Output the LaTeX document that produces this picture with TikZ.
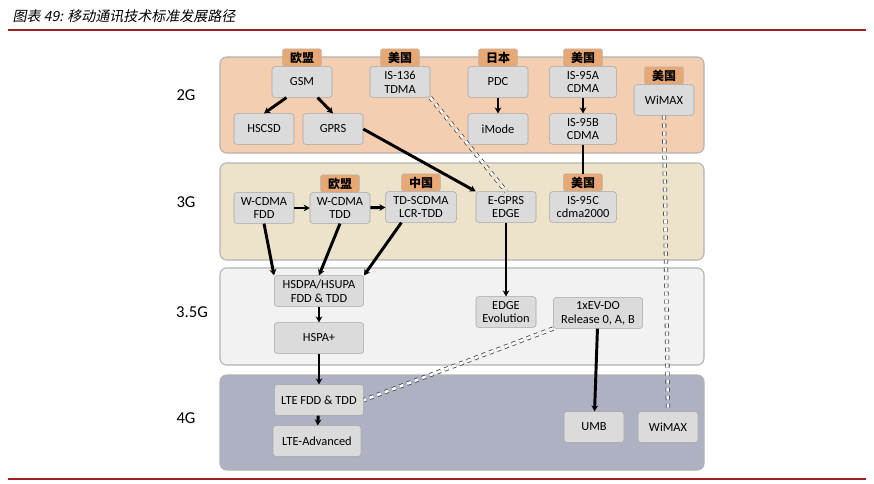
\documentclass[tikz,border=0pt]{standalone}
\usepackage{fontspec}
\setmainfont{Carlito}
\newfontfamily\cjk{Noto Sans CJK SC}
\newfontfamily\cjkit[FakeSlant=0.2]{Noto Sans CJK SC}
\usetikzlibrary{arrows.meta,positioning}
\definecolor{bandA}{HTML}{F4CEB1}
\definecolor{bandB}{HTML}{EDE3CA}
\definecolor{bandC}{HTML}{F2F2F2}
\definecolor{bandD}{HTML}{AEB1C2}
\definecolor{tagfill}{HTML}{E8A873}
\definecolor{rule}{HTML}{A31F1F}
\tikzset{
  tech/.style={rectangle, rounded corners=2pt, draw=gray!70, fill=gray!28, minimum width=45pt, minimum height=23pt, align=center, font=\fontsize{9.3}{10.3}\selectfont, inner sep=1pt},
  wide/.style={tech, minimum width=67pt},
  tag/.style={rectangle, rounded corners=1.5pt, draw=gray!60, fill=tagfill, minimum width=29pt, minimum height=13pt, inner sep=1pt, font=\cjk\fontsize{9}{9}\selectfont\bfseries},
  band/.style={rounded corners=5pt, draw=gray!60, line width=0.8pt},
  gen/.style={font=\fontsize{12.5}{13}\selectfont},
  flow/.style={line width=2.2pt, -{Stealth[length=4.5pt,width=5pt]}},
  link/.style={line width=2.2pt},
  legacy/.style={draw=black!75, double=white, double distance=2pt, dashed, line width=0.6pt}
}
\begin{document}
\begin{tikzpicture}[x=0.75pt,y=-0.75pt]
  \useasboundingbox (0,0) rectangle (874,483);
  % title and rules
  \node[anchor=west, font=\cjkit\fontsize{10.5}{11}\selectfont] (title) at (8,16) {图表 49: 移动通讯技术标准发展路径};
  \draw[rule, line width=0.8pt] (8,30) -- (866,30);
  \draw[rule, line width=0.8pt] (8,479) -- (866,479);

  % generation bands
  \draw[band, fill=bandA] (220,57) rectangle (704,153);
  \draw[band, fill=bandB] (220,163) rectangle (704,260);
  \draw[band, fill=bandC] (220,268) rectangle (704,365);
  \draw[band, fill=bandD] (220,375) rectangle (704,470);
  \node[gen] (g2) at (186,95) {2G};
  \node[gen] (g3) at (186,202) {3G};
  \node[gen] (g35) at (192,312) {3.5G};
  \node[gen] (g4) at (186,418) {4G};

  % 2G nodes
  \node[tech] (gsm) at (302,82) {GSM};
  \node[tech] (hscsd) at (264,129) {HSCSD};
  \node[tech] (gprs) at (333,129) {GPRS};
  \node[tech] (is136) at (400,82) {IS-136\\TDMA};
  \node[tech] (pdc) at (498,82) {PDC};
  \node[tech] (imode) at (498,129) {iMode};
  \node[tech, minimum width=50pt] (is95a) at (583,82) {IS-95A\\CDMA};
  \node[tech, minimum width=50pt] (is95b) at (583,129) {IS-95B\\CDMA};
  \node[tech] (wimax_old) at (664,100) {WiMAX};
  \node[tag, above=0pt of gsm] (eu_gsm) {欧盟};
  \node[tag, above=0pt of is136] (us_is136) {美国};
  \node[tag, above=0pt of pdc] (jp_pdc) {日本};
  \node[tag, above=0pt of is95a] (us_is95a) {美国};
  \node[tag, above=0pt of wimax_old] (us_wimax) {美国};

  % 3G nodes
  \node[tech] (wcdma_fdd) at (264,208) {W-CDMA\\FDD};
  \node[tech] (wcdma_tdd) at (340,208) {W-CDMA\\TDD};
  \node[tech, minimum width=53pt] (tdscdma) at (421,207) {TD-SCDMA\\LCR-TDD};
  \node[tech] (egprs) at (506,207) {E-GPRS\\EDGE};
  \node[tech, minimum width=50pt] (is95c) at (583,207) {IS-95C\\cdma2000};
  \node[tag, above=0pt of wcdma_tdd] (eu_tdd) {欧盟};
  \node[tag, above=0pt of tdscdma] (cn_td) {中国};
  \node[tag, above=0pt of is95c] (us_is95c) {美国};

  % 3.5G nodes
  \node[wide] (hsdpa) at (319,291) {HSDPA/HSUPA\\FDD \& TDD};
  \node[wide] (hspa) at (319,338) {HSPA+};
  \node[tech] (edge_evo) at (506,312) {EDGE\\Evolution};
  \node[wide] (evdo) at (598,313) {1xEV-DO\\Release 0, A, B};

  % 4G nodes
  \node[wide] (lte) at (319,400) {LTE FDD \& TDD};
  \node[wide, minimum width=66pt] (lte_adv) at (317,441) {LTE-Advanced};
  \node[tech] (umb) at (594,427) {UMB};
  \node[tech] (wimax) at (668,427) {WiMAX};

  % connectors
  \draw[flow] (gsm.south west)++(11pt,0) -- (hscsd.north);
  \draw[flow] (gsm.south east)++(-11pt,0) -- (gprs.north);
  \draw[flow] (pdc) -- (imode);
  \draw[flow] (is95a) -- (is95b);
  \draw[link] (is95b) -- (us_is95c);
  \draw[flow] (gprs.east) -- (egprs.north west);
  \draw[legacy] (is136.south east) -- (egprs.north);
  \draw[flow] (wcdma_fdd) -- (wcdma_tdd);
  \draw[flow] (wcdma_tdd) -- (tdscdma);
  \draw[flow] (wcdma_fdd.south) -- (hsdpa.north west);
  \draw[flow] (wcdma_tdd.south) -- (hsdpa.north);
  \draw[flow] (tdscdma.south west)++(12pt,0) -- (hsdpa.north east);
  \draw[flow] (hsdpa) -- (hspa);
  \draw[flow] (hspa) -- (lte);
  \draw[flow] (lte) -- (lte_adv);
  \draw[flow] (egprs) -- (edge_evo);
  \draw[flow] (evdo) -- (umb);
  \draw[legacy] (evdo.south west) -- (lte.east);
  \draw[legacy] (wimax_old.south) -- (wimax.north);
\end{tikzpicture}
\end{document}
